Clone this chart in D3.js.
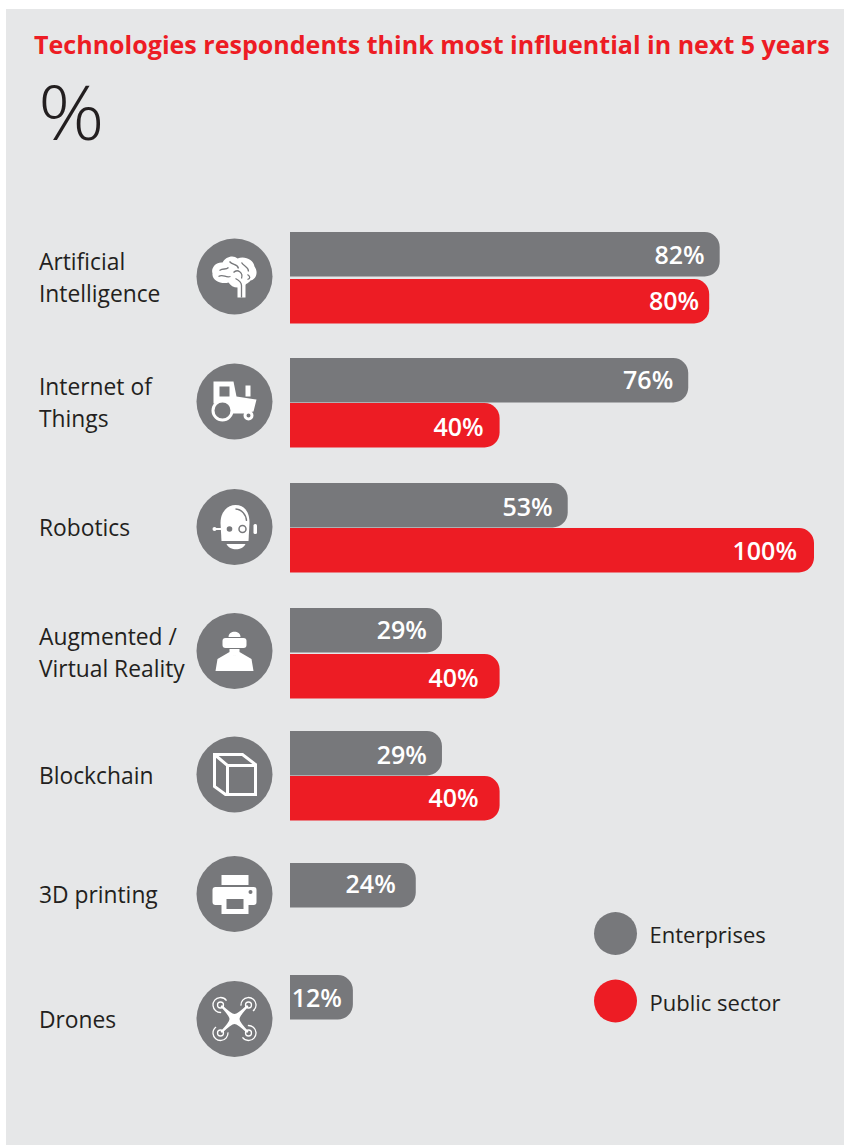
<!DOCTYPE html>
<html>
<head>
<meta charset="utf-8">
<script src="https://cdn.jsdelivr.net/npm/d3@7"></script>
<style>
  html, body { margin: 0; padding: 0; background: #fff; }
  svg { display: block; }
  text { font-family: "Open Sans", "Noto Sans", sans-serif; }
</style>
</head>
<body>
<div id="chart"></div>
<script>
// chart data
var categories = ["Artificial Intelligence", "Internet of Things", "Robotics",
  "Augmented / Virtual Reality", "Blockchain", "3D printing", "Drones"];
var seriesNames = ["Enterprises", "Public sector"];
var enterprises = [82, 76, 53, 29, 29, 24, 12];
var publicSector = [80, 40, 100, 40, 40, null, null];

var width = 844, height = 1145;
var grey = "#77787b", red = "#ed1c24", ink = "#231f20", panel = "#e6e7e8";

var svg = d3.select("#chart")
  .append("svg")
    .attr("width", width)
    .attr("height", height);

// background panel
svg.append("rect")
  .attr("x", 6).attr("y", 9)
  .attr("width", width - 6).attr("height", height - 9)
  .attr("fill", panel);

svg.append("text")
  .attr("x", 34).attr("y", 53.5)
  .attr("font-size", 25.05)
  .attr("font-weight", 700)
  .attr("fill", red)
  .text("Technologies respondents think most influential in next 5 years");

// the % in the reference is wider than any installed face, so stretch it a bit
svg.append("text")
  .attr("transform", "translate(38,140) scale(1.1,1)")
  .attr("font-size", 75)
  .attr("font-weight", 350)
  .attr("fill", ink)
  .text("%");

// scales
var x = d3.scaleLinear().domain([0, 100]).range([290, 814]);
var color = d3.scaleOrdinal().domain(seriesNames).range([grey, red]);

// the rows in the reference are not evenly spaced, so the top of each group is mapped
var rowTop = d3.scaleOrdinal().domain(categories)
  .range([232, 358, 483, 608, 731, 863, 975]);
var rowGap = d3.scaleOrdinal().domain(categories)
  .range([47, 45, 45, 46, 45, 45, 45]);
var circleY = d3.scaleOrdinal().domain(categories)
  .range([276.5, 401.5, 527, 651, 774.5, 894, 1019]);
var labelY = d3.scaleOrdinal().domain(categories)
  .range([262, 387, 528, 637, 776, 895, 1020]);
var barHeight = 44.5, barRadius = 15;

function barTop(d) {
  return rowTop(d.cat) + (d.series === seriesNames[1] ? rowGap(d.cat) : 0);
}

function barPath(x0, x1, y0, h) {
  var r = Math.min(barRadius, x1 - x0), p = d3.path();
  p.moveTo(x0, y0);
  p.lineTo(x1 - r, y0);
  p.arcTo(x1, y0, x1, y0 + r, r);
  p.lineTo(x1, y0 + h - r);
  p.arcTo(x1, y0 + h, x1 - r, y0 + h, r);
  p.lineTo(x0, y0 + h);
  p.closePath();
  return p.toString();
}

var bars = [];
categories.forEach(function(c, i) {
  bars.push({cat: c, series: seriesNames[0], value: enterprises[i]});
  if (publicSector[i] != null) bars.push({cat: c, series: seriesNames[1], value: publicSector[i]});
});

svg.append("g").selectAll("path")
  .data(bars)
  .enter()
  .append("path")
    .attr("d", function(d) { return barPath(x(0), x(d.value), barTop(d), barHeight); })
    .attr("fill", function(d) { return color(d.series); });

// the value labels sit a little differently in each bar, one entry per bar
var labelInset = [15, 10, 15, 16, 15, 17, 15, 21, 15, 21, 20, 11];
var labelNudge = [1, 0, 0, 2, 2, 1, 0, 2, 2, 0, -1, 1];

svg.append("g").selectAll("text")
  .data(bars)
  .enter()
  .append("text")
    .attr("x", function(d, i) { return x(d.value) - labelInset[i]; })
    .attr("y", function(d, i) { return barTop(d) + barHeight / 2 + 9 + labelNudge[i]; })
    .attr("text-anchor", "end")
    .attr("font-size", 25)
    .attr("font-weight", 600)
    .attr("fill", "#fff")
    .text(function(d) { return d.value + "%"; });

// category labels, wrapped the same way as the reference
var labelLines = d3.scaleOrdinal().domain(categories).range([
  ["Artificial", "Intelligence"], ["Internet of", "Things"], ["Robotics"],
  ["Augmented /", "Virtual Reality"], ["Blockchain"], ["3D printing"], ["Drones"]]);

var labels = svg.append("g").selectAll("text")
  .data(categories)
  .enter()
  .append("text")
    .attr("x", 39)
    .attr("y", function(d) { return labelY(d) + 8; })
    .attr("font-size", 22.8)
    .attr("fill", ink);

labels.selectAll("tspan")
  .data(function(d) { return labelLines(d); })
  .enter()
  .append("tspan")
    .attr("x", 39)
    .attr("dy", function(d, i) { return i ? 32 : 0; })
    .text(function(d) { return d; });

// icons, drawn around the centre of each circle
var icons = {};
icons["Artificial Intelligence"] = function(g) {
  g.append("path").attr("fill", "#fff")
    .attr("d", "M-22,-3C-24,-9-18,-15-12,-14C-9,-20-1,-22 3,-18C10,-21 19,-17 20,-10C24,-5 22,3 16,4C14,7 11,7 11,9L11,21L3,21L3,11C-1,11-4,9-6,6C-13,8-23,4-22,-3Z");
  g.append("path").attr("fill", "none").attr("stroke", grey).attr("stroke-width", 1.3)
    .attr("d", "M-15,-6C-11,-9-9,-6-6,-9M-16,0C-11,-3-9,2-4,0M-5,-15C-2,-11 3,-13 4,-8M-1,-4C3,-8 9,-4 7,2M7,-14C9,-10 14,-10 14,-5M13,-2C16,0 16,2 13,3M7,21L7,9C7,5 3,3 1,2");
};
icons["Internet of Things"] = function(g) {
  g.append("path").attr("fill", "#fff")
    .attr("d", "M-21,-20L-1,-20L2,-5L22,-2L19,10L9,12L-7,12L-12,2L-21,2Z");
  g.append("rect").attr("fill", "#fff").attr("x", 11).attr("y", -16).attr("width", 5).attr("height", 11);
  g.append("rect").attr("fill", grey).attr("x", -15).attr("y", -15).attr("width", 10).attr("height", 10);
  g.append("circle").attr("cx", -12).attr("cy", 9).attr("r", 9.5).attr("fill", grey).attr("stroke", "#fff").attr("stroke-width", 3);
  g.append("circle").attr("cx", 14).attr("cy", 14).attr("r", 3.5).attr("fill", grey).attr("stroke", "#fff").attr("stroke-width", 3);
};
icons["Robotics"] = function(g) {
  g.append("path").attr("fill", "#fff")
    .attr("d", "M-13,14L-14,-4C-14,-15-7,-22 1,-22C10,-22 15,-15 15,-4L14,14Z");
  g.append("path").attr("fill", "#fff").attr("d", "M-8,17L11,17C8,24-5,24-8,17Z");
  g.append("rect").attr("fill", "#fff").attr("x", 19).attr("y", -3).attr("width", 3.5).attr("height", 10).attr("rx", 1.5);
  g.append("path").attr("stroke", "#fff").attr("stroke-width", 2).attr("d", "M-21,2L-13,2");
  g.append("circle").attr("fill", "#fff").attr("cx", -20).attr("cy", 2).attr("r", 2);
  g.append("circle").attr("fill", grey).attr("cx", -5).attr("cy", 2).attr("r", 2.8);
  g.append("circle").attr("fill", "#fff").attr("stroke", grey).attr("stroke-width", 1.5).attr("cx", 8).attr("cy", 2).attr("r", 3.5);
  g.append("path").attr("fill", "none").attr("stroke", grey).attr("stroke-width", 1.3).attr("d", "M1,-18C7,-18 12,-12 12,-6");
};
icons["Augmented / Virtual Reality"] = function(g) {
  g.append("path").attr("fill", "#fff").attr("d", "M-19,20L-17,8L-5,1L0,5L5,1L17,8L19,20Z");
  g.append("path").attr("fill", "#fff").attr("d", "M-6,-14C-6,-21 6,-21 6,-14Z");
  g.append("rect").attr("fill", "#fff").attr("x", -12).attr("y", -13).attr("width", 24).attr("height", 10).attr("rx", 3);
  g.append("path").attr("fill", "#fff").attr("d", "M-5,-2L5,-2L5,2C4,6-4,6-5,2Z");
};
icons["Blockchain"] = function(g) {
  g.append("path").attr("fill", "none").attr("stroke", "#fff").attr("stroke-width", 3)
    .attr("d", "M-20,-20L8,-20L21,-10L21,20L-9,20L-20,12ZM-20,-20L-7,-9L21,-9M-7,-9L-7,20");
};
icons["3D printing"] = function(g) {
  g.append("rect").attr("fill", "#fff").attr("x", -13).attr("y", -19).attr("width", 27).attr("height", 10);
  g.append("rect").attr("fill", "#fff").attr("x", -22).attr("y", -7).attr("width", 44).attr("height", 18).attr("rx", 3);
  g.append("rect").attr("fill", "#fff").attr("x", -13).attr("y", 4).attr("width", 27).attr("height", 16);
  g.append("rect").attr("fill", grey).attr("x", -8).attr("y", 5).attr("width", 17).attr("height", 10);
  g.append("circle").attr("fill", grey).attr("cx", 16).attr("cy", -2).attr("r", 2);
};
icons["Drones"] = function(g) {
  [[-14, -14], [14, -14], [-14, 14], [14, 14]].forEach(function(c) {
    g.append("circle").attr("cx", c[0]).attr("cy", c[1]).attr("r", 7.5)
      .attr("fill", "none").attr("stroke", "#fff").attr("stroke-width", 1.3)
      .attr("stroke-dasharray", "31 16")
      .attr("transform", "rotate(" + (Math.atan2(-c[1], -c[0]) * 180 / Math.PI + 40) + " " + c[0] + " " + c[1] + ")");
    g.append("circle").attr("cx", c[0]).attr("cy", c[1]).attr("r", 3)
      .attr("fill", "none").attr("stroke", "#fff").attr("stroke-width", 1.3);
  });
  g.append("path").attr("fill", "#fff")
    .attr("d", "M-14,-12.5L-12.5,-14Q-3,-5 0,-5Q3,-5 12.5,-14L14,-12.5Q5,-3 5,0Q5,3 14,12.5L12.5,14Q3,5 0,5Q-3,5-12.5,14L-14,12.5Q-5,3-5,0Q-5,-3-14,-12.5Z");
};

var iconGroups = svg.append("g").selectAll("g")
  .data(categories)
  .enter()
  .append("g")
    .attr("transform", function(d) { return "translate(234.5," + circleY(d) + ")"; });

iconGroups.append("circle").attr("r", 38).attr("fill", grey);
iconGroups.each(function(d) { icons[d](d3.select(this)); });

// legend
var legendY = d3.scaleOrdinal().domain(seriesNames).range([933.5, 1001]);
var legend = svg.append("g").selectAll("g")
  .data(seriesNames)
  .enter()
  .append("g")
    .attr("transform", function(d) { return "translate(615.5," + legendY(d) + ")"; });

legend.append("circle")
  .attr("r", 21.5)
  .attr("fill", function(d) { return color(d); });

legend.append("text")
  .attr("x", 34)
  .attr("y", 9.5)
  .attr("font-size", 22)
  .attr("fill", ink)
  .text(function(d) { return d; });
</script>
</body>
</html>
